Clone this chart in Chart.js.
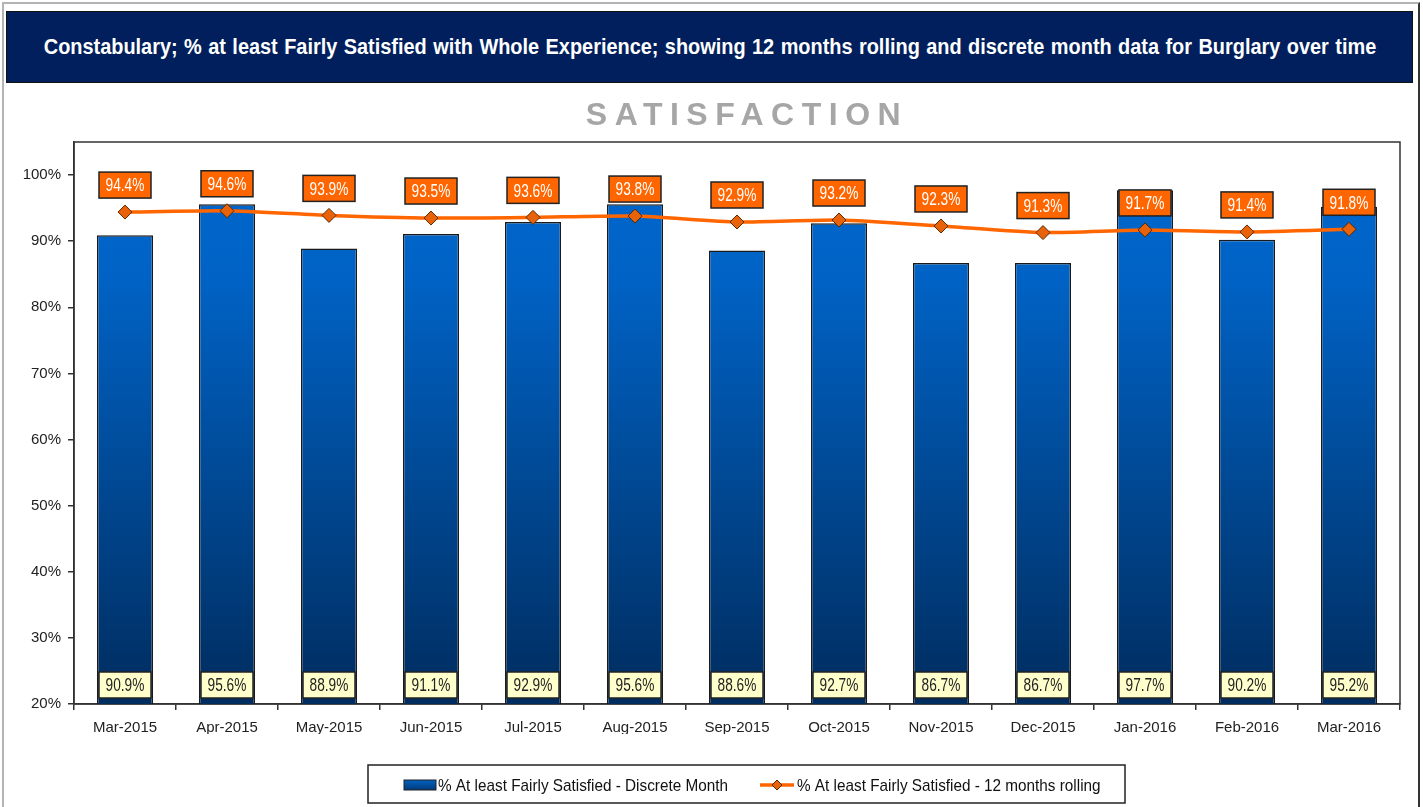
<!DOCTYPE html>
<html>
<head>
<meta charset="utf-8">
<script src="https://cdn.jsdelivr.net/npm/chart.js@4.4.1/dist/chart.umd.min.js"></script>
<style>
  body { margin: 0; background: #fff; overflow: hidden; font-family: "Liberation Sans", Arial, sans-serif; }
  #frame { position: absolute; left: 2px; top: 2px; width: 1414px; height: 900px;
           border-top: 2px solid #b4b4b4; border-left: 2px solid #b4b4b4; border-right: 2px solid #333; }
  #banner { position: absolute; left: 6px; top: 11px; width: 1405px; height: 70px; background: #001f5c;
            border: 1px solid #111; }
  #banner span { position: absolute; left: 50%; top: 0; white-space: nowrap; color: #fff; font-weight: bold;
                 font-size: 22px; line-height: 70px; word-spacing: 1px; transform: translateX(-50%) scaleX(0.905); }
  #subtitle { position: absolute; left: 0; width: 1494px; top: 96px; text-align: center;
              color: #a6a6a6; font-weight: bold; font-size: 32px; letter-spacing: 7.5px; }
  #c { position: absolute; left: 0; top: 0; width: 1423px; height: 807px; }
</style>
</head>
<body>
<div id="frame"></div>
<canvas id="c" width="1423" height="807"></canvas>
<div id="banner"><span>Constabulary; % at least Fairly Satisfied with Whole Experience; showing 12 months rolling and discrete month data for Burglary over time</span></div>
<div id="subtitle">SATISFACTION</div>
<script>
const months = ["Mar-2015", "Apr-2015", "May-2015", "Jun-2015", "Jul-2015", "Aug-2015", "Sep-2015",
                "Oct-2015", "Nov-2015", "Dec-2015", "Jan-2016", "Feb-2016", "Mar-2016"];
const discrete = [90.9, 95.6, 88.9, 91.1, 92.9, 95.6, 88.6, 92.7, 86.7, 86.7, 97.7, 90.2, 95.2];
const rolling = [94.4, 94.6, 93.9, 93.5, 93.6, 93.8, 92.9, 93.2, 92.3, 91.3, 91.7, 91.4, 91.8];
const yTicks = [20, 30, 40, 50, 60, 70, 80, 90, 100];

const FONT = "'Liberation Sans', Arial, sans-serif";

function barFill(c) {
  const a = c.chart.chartArea;
  if (!a) return "#0066cc";
  const g = c.chart.ctx.createLinearGradient(0, a.top, 0, a.bottom);
  g.addColorStop(0, "#0068d0");
  g.addColorStop(0.25, "#0062c4");
  g.addColorStop(1, "#002c5e");
  return g;
}

function squeezeText(ctx, txt, x, y, sx) {
  ctx.save();
  ctx.translate(x, y);
  ctx.scale(sx, 1);
  ctx.fillText(txt, 0, 0);
  ctx.restore();
}

function labelBox(ctx, x, yTop, fill, textColor, txt) {
  const w = 52, h = 26;
  ctx.fillStyle = fill;
  ctx.fillRect(x - w / 2, yTop, w, h);
  ctx.strokeStyle = "#222";
  ctx.lineWidth = 1.5;
  ctx.strokeRect(x - w / 2, yTop, w, h);
  ctx.fillStyle = textColor;
  ctx.font = "19px " + FONT;
  ctx.textAlign = "center";
  ctx.textBaseline = "middle";
  squeezeText(ctx, txt, x, yTop + h / 2 + 1, 0.72);
}

const extras = {
  id: "extras",
  beforeDatasetsDraw(chart) {
    const { ctx, chartArea: a } = chart;
    ctx.save();
    ctx.strokeStyle = "#333";
    ctx.lineWidth = 1.5;
    ctx.strokeRect(a.left, a.top, a.right - a.left, a.bottom - a.top);
    ctx.restore();
  },
  afterDatasetsDraw(chart) {
    const ctx = chart.ctx;
    const a = chart.chartArea;
    ctx.save();
    chart.getDatasetMeta(0).data.forEach((bar, i) => {
      labelBox(ctx, bar.x, a.bottom - 32, "#ffffcc", "#222", discrete[i].toFixed(1) + "%");
    });
    chart.getDatasetMeta(1).data.forEach((pt, i) => {
      labelBox(ctx, pt.x, pt.y - 40, "#ff6600", "#fff", rolling[i].toFixed(1) + "%");
    });

    // legend
    ctx.strokeStyle = "#222";
    ctx.lineWidth = 1.5;
    ctx.strokeRect(368, 765, 757, 38);
    const g = ctx.createLinearGradient(0, 780, 0, 790);
    g.addColorStop(0, "#0062c4");
    g.addColorStop(1, "#003a78");
    ctx.fillStyle = g;
    ctx.fillRect(404, 780, 32, 10);
    ctx.lineWidth = 1;
    ctx.strokeRect(404, 780, 32, 10);
    ctx.fillStyle = "#111";
    ctx.font = "17px " + FONT;
    ctx.textAlign = "left";
    ctx.textBaseline = "middle";
    squeezeText(ctx, chart.data.datasets[0].label, 438, 786, 0.9);

    ctx.strokeStyle = "#ff6600";
    ctx.lineWidth = 3.5;
    ctx.beginPath();
    ctx.moveTo(760, 785);
    ctx.lineTo(794, 785);
    ctx.stroke();
    ctx.fillStyle = "#e8620a";
    ctx.strokeStyle = "#5a2a00";
    ctx.lineWidth = 1;
    ctx.beginPath();
    ctx.moveTo(777, 780); ctx.lineTo(782, 785); ctx.lineTo(777, 790); ctx.lineTo(772, 785);
    ctx.closePath();
    ctx.fill();
    ctx.stroke();
    ctx.fillStyle = "#111";
    squeezeText(ctx, chart.data.datasets[1].label, 797, 786, 0.9);
    ctx.restore();
  }
};

new Chart(document.getElementById("c"), {
  type: "bar",
  data: {
    labels: months,
    datasets: [
      {
        type: "bar",
        label: "% At least Fairly Satisfied - Discrete Month",
        data: discrete,
        backgroundColor: barFill,
        borderColor: "#1a1a1a",
        borderWidth: 1.5,
        barPercentage: 0.55,
        categoryPercentage: 1,
        order: 2
      },
      {
        type: "line",
        label: "% At least Fairly Satisfied - 12 months rolling",
        data: rolling,
        borderColor: "#ff6600",
        borderWidth: 3.5,
        tension: 0.2,
        pointStyle: "rectRot",
        pointRadius: 7,
        pointBackgroundColor: "#e8620a",
        pointBorderColor: "#5a2a00",
        pointBorderWidth: 1,
        order: 1
      }
    ]
  },
  options: {
    responsive: false,
    animation: false,
    devicePixelRatio: 1,
    layout: { padding: { left: 0, top: 142, right: 23, bottom: 73 } },
    plugins: { legend: { display: false }, tooltip: { enabled: false } },
    scales: {
      x: {
        offset: true,
        grid: { offset: true, drawOnChartArea: false, tickLength: 6, color: "#333", lineWidth: 1.5 },
        border: { color: "#333", width: 1.5 },
        ticks: { color: "#222", font: { family: FONT, size: 15 }, padding: 9, maxRotation: 0, autoSkip: false },
        afterFit(s) { s.height = 30; }
      },
      y: {
        min: 20,
        max: 105,
        afterBuildTicks(s) { s.ticks = yTicks.map(v => ({ value: v })); },
        grid: { drawOnChartArea: false, tickLength: 6, color: "#333", lineWidth: 1.5 },
        border: { color: "#333", width: 1.5 },
        ticks: { color: "#222", font: { family: FONT, size: 15 }, padding: 7, callback: v => v + "%" },
        afterFit(s) { s.width = 74; }
      }
    }
  },
  plugins: [extras]
});
</script>
</body>
</html>
